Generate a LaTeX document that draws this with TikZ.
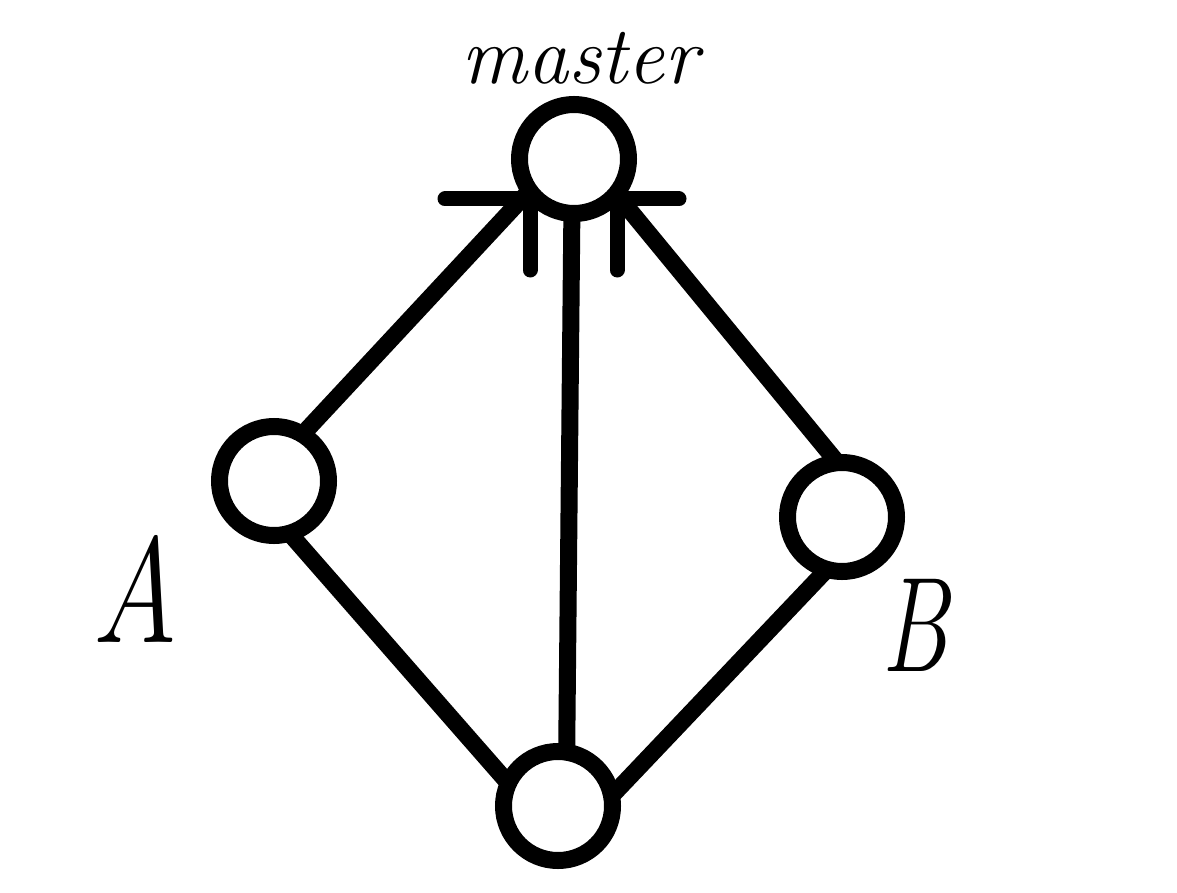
\documentclass[tikz,border=0pt]{standalone}
\usetikzlibrary{backgrounds}
\begin{document}
\begin{tikzpicture}[x=1pt,y=-1pt,
  vertex/.style={circle,draw=black,line width=17pt,fill=white,inner sep=0pt,minimum size=109pt},
  edge/.style={line width=17pt,draw=black,shorten <=-14pt,shorten >=-14pt},
  bar/.style={line width=15pt,draw=black,line cap=round}]
\useasboundingbox (0,0) rectangle (1177,893);
\node[vertex] (m) at (574,159) {};
\node[vertex] (a) at (274,481) {};
\node[vertex] (b) at (842,517) {};
\node[vertex] (d) at (558,806) {};
\coordinate (barl) at (445,199);
\coordinate (barr) at (679,199);
\coordinate (t1a) at (530,199);
\coordinate (t1b) at (530,270);
\coordinate (t2a) at (617,199);
\coordinate (t2b) at (617,270);
\begin{scope}[on background layer]
\fill[white] (0,0) rectangle (1177,893);
\draw[edge] (m.217) -- (a.57);
\draw[edge] (m.319) -- (b.100);
\draw[edge] (a.290) -- (d.152);
\draw[edge] (b.250) -- (d.16);
\draw[edge] (m.268) -- (d.82);
\draw[bar] (barl) -- (barr);
\draw[bar] (t1a) -- (t1b);
\draw[bar] (t2a) -- (t2b);
\end{scope}
\node[font=\fontsize{82}{82}\selectfont\itshape] (lm) at (580,58) {master};
\node[font=\fontsize{150}{150}\selectfont\itshape,xscale=0.8] (la) at (135,589) {A};
\node[font=\fontsize{135}{135}\selectfont\itshape,xscale=0.72] (lb) at (915,625) {B};
\end{tikzpicture}
\end{document}
